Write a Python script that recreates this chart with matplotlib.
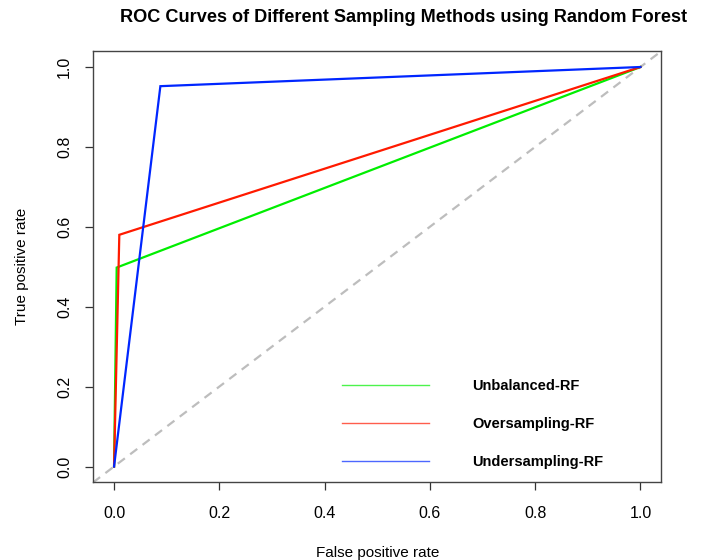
import matplotlib.pyplot as plt
from matplotlib.lines import Line2D

plt.rcParams['font.family'] = ['Liberation Sans', 'DejaVu Sans']

# ROC points (false positive rate, true positive rate) per sampling method
methods = ["Unbalanced-RF", "Oversampling-RF", "Undersampling-RF"]
colors = ["#00ee00", "#ff1a00", "#0026ff"]
fpr = [
    [0.0, 0.005, 1.0],
    [0.0, 0.010, 1.0],
    [0.0, 0.088, 1.0],
]
tpr = [
    [0.0, 0.498, 1.0],
    [0.0, 0.580, 1.0],
    [0.0, 0.952, 1.0],
]
ticks = [0.0, 0.2, 0.4, 0.6, 0.8, 1.0]

fig = plt.figure(figsize=(7.04, 5.6), dpi=100)
ax = fig.add_axes([0.1321, 0.1384, 0.8075, 0.7705])

for x, y, c in zip(fpr, tpr, colors):
    ax.plot(x, y, color=c, lw=1.6, solid_joinstyle='miter')

# chance line across the whole plotting region
ax.axline((0, 0), slope=1, color="#bdbdbd", lw=1.6, ls=(0, (4, 3)), zorder=0)

ax.set_xlim(-0.04, 1.04)
ax.set_ylim(-0.04, 1.04)
ax.set_xticks(ticks)
ax.set_yticks(ticks)
ax.set_xticklabels([f"{t:.1f}" for t in ticks], fontsize=11.5)
ax.set_yticklabels([f"{t:.1f}" for t in ticks], fontsize=11.5, rotation=90, va='center')
ax.tick_params(axis='x', direction='out', length=6, width=0.9, color="#333333", pad=11)
ax.tick_params(axis='y', direction='out', length=6, width=0.9, color="#333333", pad=9)
for s in ax.spines.values():
    s.set_color("#444444")
    s.set_linewidth(1.0)

ax.set_xlabel("False positive rate", fontsize=11, labelpad=18)
ax.set_ylabel("True positive rate", fontsize=11, labelpad=20)
fig.text(0.573, 0.969, "ROC Curves of Different Sampling Methods using Random Forest",
         ha='center', va='center', fontsize=13.1, fontweight='bold')

handles = [Line2D([], [], color=c, lw=1.0, alpha=0.7) for c in colors]
leg = ax.legend(handles, methods, loc='center left', bbox_to_anchor=(0.438, 0.135),
                frameon=False, borderaxespad=0, borderpad=0, fontsize=10.5,
                handlelength=6.0, handletextpad=2.95, labelspacing=1.65)
for t in leg.get_texts():
    t.set_fontweight('bold')

fig.savefig("out.png", dpi=100)
